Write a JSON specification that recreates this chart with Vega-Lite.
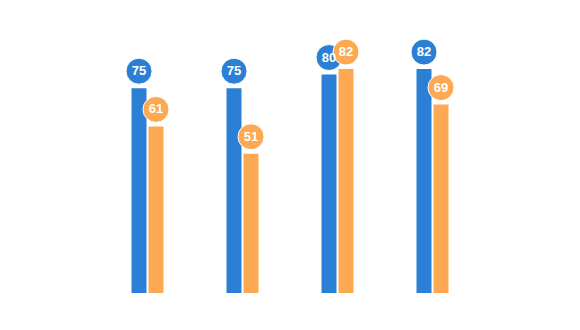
{
  "$schema": "https://vega.github.io/schema/vega-lite/v6.json",
  "width": 580,
  "height": 330,
  "autosize": "none",
  "padding": 0,
  "background": "white",
  "config": {"view": {"stroke": null}},
  "data": {
    "values": [
      {"group": "A", "series": "s1", "value": 75},
      {"group": "A", "series": "s2", "value": 61},
      {"group": "B", "series": "s1", "value": 75},
      {"group": "B", "series": "s2", "value": 51},
      {"group": "C", "series": "s1", "value": 80},
      {"group": "C", "series": "s2", "value": 82},
      {"group": "D", "series": "s1", "value": 82},
      {"group": "D", "series": "s2", "value": 69}
    ]
  },
  "encoding": {
    "x": {"field": "group", "type": "nominal", "axis": null,
          "scale": {"range": [100, 480], "paddingInner": 0.6632, "paddingOuter": 0.3316}},
    "xOffset": {"field": "series", "type": "nominal",
                "scale": {"paddingInner": 0.1176, "paddingOuter": 0}},
    "y": {"field": "value", "type": "quantitative", "axis": null,
          "scale": {"domain": [0, 107.3], "range": [293, 0], "nice": false, "zero": true}},
    "color": {"field": "series", "type": "nominal", "legend": null,
              "scale": {"domain": ["s1", "s2"], "range": ["#2B80D6", "#FDA852"]}}
  },
  "layer": [
    {"mark": {"type": "bar"}},
    {"mark": {"type": "point", "filled": true, "shape": "circle", "size": 676, "opacity": 1, "yOffset": -17, "stroke": "white", "strokeWidth": 1}},
    {"mark": {"type": "text", "color": "white", "fontSize": 13, "fontWeight": "bold", "font": "Liberation Sans", "yOffset": -17, "baseline": "middle", "align": "center"},
     "encoding": {"text": {"field": "value", "type": "quantitative"}, "color": {"value": "white"}}}
  ]
}
